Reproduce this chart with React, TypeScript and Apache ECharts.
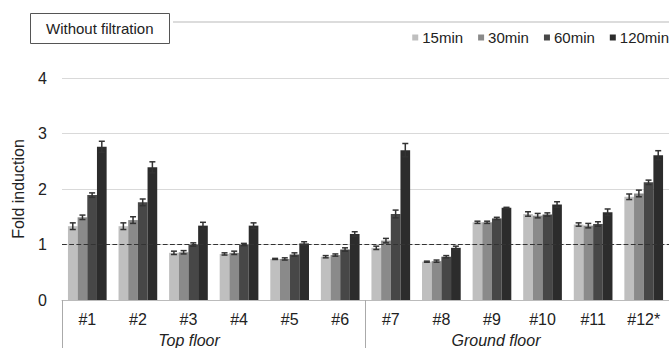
import React, { useEffect, useRef } from "react";
import * as echarts from "echarts";

const categories = ["#1", "#2", "#3", "#4", "#5", "#6", "#7", "#8", "#9", "#10", "#11", "#12*"];
const seriesNames = ["15min", "30min", "60min", "120min"];
const v15 = [1.33, 1.33, 0.85, 0.83, 0.74, 0.78, 0.94, 0.69, 1.40, 1.55, 1.36, 1.86];
const v30 = [1.49, 1.44, 0.86, 0.85, 0.74, 0.81, 1.07, 0.70, 1.40, 1.52, 1.34, 1.92];
const v60 = [1.89, 1.76, 1.00, 1.00, 0.82, 0.91, 1.55, 0.78, 1.47, 1.54, 1.37, 2.12];
const v120 = [2.76, 2.39, 1.34, 1.34, 1.02, 1.19, 2.70, 0.94, 1.66, 1.72, 1.58, 2.61];
const e15 = [0.06, 0.06, 0.03, 0.02, 0.01, 0.02, 0.03, 0.01, 0.02, 0.04, 0.03, 0.05];
const e30 = [0.04, 0.06, 0.03, 0.03, 0.02, 0.02, 0.04, 0.02, 0.02, 0.04, 0.04, 0.06];
const e60 = [0.04, 0.06, 0.03, 0.02, 0.03, 0.03, 0.07, 0.02, 0.02, 0.03, 0.04, 0.04];
const e120 = [0.10, 0.10, 0.06, 0.05, 0.03, 0.04, 0.12, 0.03, 0.01, 0.05, 0.06, 0.08];
const yTicks = [0, 1, 2, 3, 4];
const floorLabels = ["Top floor", "Ground floor"];
const titleText = "Without filtration";
const yName = "Fold induction";

const values = [v15, v30, v60, v120];
const errors = [e15, e30, e60, e120];
const colors = ["#bfbfbf", "#8a8a8a", "#474747", "#2c2c2c"];
const GAP = 0.235;

export default function App() {
  const ref = useRef<HTMLDivElement>(null);
  useEffect(() => {
    if (!ref.current) return;
    const chart = echarts.init(ref.current, null, { renderer: "svg" });
    const font = "'Liberation Sans', Arial, sans-serif";
    const barSeries: any[] = values.map((vals, i) => ({
      name: seriesNames[i],
      type: "bar",
      data: vals,
      barGap: "0%",
      barCategoryGap: GAP * 100 + "%",
      itemStyle: { color: colors[i] },
      z: 2,
      markLine:
        i === 0
          ? {
              silent: true,
              symbol: "none",
              label: { show: false },
              lineStyle: { type: "dashed", color: "#333", width: 1.2 },
              data: [{ yAxis: 1 }],
            }
          : undefined,
    }));
    const errSeries: any[] = values.map((vals, i) => ({
      name: seriesNames[i] + "-err",
      type: "custom",
      z: 5,
      silent: true,
      data: vals.map((v, k) => [k, v - errors[i][k], v + errors[i][k]]),
      renderItem: (params: any, api: any) => {
        const k = api.value(0);
        const lo = api.coord([k, api.value(1)]);
        const hi = api.coord([k, api.value(2)]);
        const band = api.size([1, 0])[0];
        const bw = (band * (1 - GAP)) / 4;
        const x = lo[0] + (i - 1.5) * bw;
        const cap = 3;
        const style = { stroke: "#333", lineWidth: 1.5 };
        return {
          type: "group",
          children: [
            { type: "line", shape: { x1: x, y1: lo[1], x2: x, y2: hi[1] }, style },
            { type: "line", shape: { x1: x - cap, y1: lo[1], x2: x + cap, y2: lo[1] }, style },
            { type: "line", shape: { x1: x - cap, y1: hi[1], x2: x + cap, y2: hi[1] }, style },
          ],
        };
      },
    }));
    chart.setOption({
      animation: false,
      textStyle: { fontFamily: font },
      title: {
        text: titleText,
        left: 30,
        top: 13,
        padding: [8, 16],
        borderColor: "#555",
        borderWidth: 1,
        textStyle: { fontSize: 15, fontWeight: "normal", color: "#222", fontFamily: font },
      },
      legend: {
        data: seriesNames,
        right: 0,
        top: 30,
        padding: 0,
        itemWidth: 6,
        itemHeight: 6,
        itemGap: 15,
        icon: "rect",
        textStyle: { fontSize: 15, color: "#222", fontFamily: font, padding: [0, 0, 0, -1] },
      },
      grid: { left: 62, right: -2, top: 78, bottom: 48, containLabel: false },
      xAxis: {
        type: "category",
        data: categories,
        axisLine: { lineStyle: { color: "#bbb", width: 1 } },
        axisTick: {
          show: true,
          length: 48,
          interval: (idx: number) => idx === 0 || idx === 6,
          lineStyle: { color: "#aaa" },
        },
        axisLabel: { fontSize: 16, color: "#222", margin: 11, fontFamily: font, interval: 0 },
      },
      yAxis: {
        type: "value",
        min: yTicks[0],
        max: yTicks[yTicks.length - 1],
        interval: 1,
        name: yName,
        nameLocation: "middle",
        nameGap: 36,
        nameTextStyle: { fontSize: 16, color: "#222", fontFamily: font },
        axisLine: { show: false },
        axisTick: { show: false },
        axisLabel: { fontSize: 16, color: "#222", margin: 15, fontFamily: font },
        splitLine: { lineStyle: { color: "#d9d9d9", width: 1.2 } },
      },
      graphic: [
        { type: "line", shape: { x1: 173, y1: 22, x2: 669, y2: 22 }, style: { stroke: "#d0d0d0", lineWidth: 1.5 } },
        {
          type: "text",
          x: 189,
          y: 340,
          style: { text: floorLabels[0], fill: "#222", font: "italic 16px " + font, textAlign: "center", textVerticalAlign: "middle" },
        },
        {
          type: "text",
          x: 496,
          y: 340,
          style: { text: floorLabels[1], fill: "#222", font: "italic 16px " + font, textAlign: "center", textVerticalAlign: "middle" },
        },
      ],
      series: [...barSeries, ...errSeries],
    });
    return () => chart.dispose();
  }, []);
  return <div ref={ref} style={{ width: 669, height: 348, position: "absolute", left: 0, top: 0 }} />;
}
